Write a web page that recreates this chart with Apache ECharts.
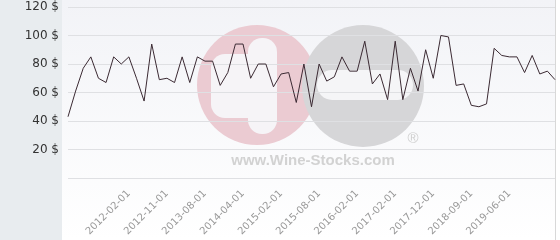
<!DOCTYPE html>
<html><head><meta charset="utf-8">
<script src="https://cdn.jsdelivr.net/npm/echarts@6/dist/echarts.min.js"></script>
<style>html,body{margin:0;padding:0;background:#fff}#c{width:560px;height:240px}</style>
</head><body><div id="c"></div>
<script>
var categories = [
'2010-10-01','2010-12-01','2011-02-01','2011-04-01','2011-06-01','2011-08-01','2011-10-01','2011-12-01',
'2012-02-01','2012-04-01','2012-05-01','2012-07-01','2012-09-01','2012-11-01','2013-01-01','2013-03-01',
'2013-04-01','2013-06-01','2013-08-01','2013-10-01','2013-11-01','2014-01-01','2014-02-01','2014-04-01',
'2014-06-01','2014-08-01','2014-10-01','2014-12-01','2015-02-01','2015-03-01','2015-04-01','2015-06-01',
'2015-07-01','2015-08-01','2015-09-01','2015-10-01','2015-11-01','2016-01-01','2016-02-01','2016-04-01',
'2016-07-01','2016-09-01','2016-11-01','2017-02-01','2017-04-01','2017-06-01','2017-08-01','2017-10-01',
'2017-12-01','2018-02-01','2018-04-01','2018-05-01','2018-07-01','2018-09-01','2018-11-01','2019-01-01',
'2019-02-01','2019-04-01','2019-06-01','2019-08-01','2019-10-01','2019-12-01','2020-02-01','2020-04-01',
'2020-06-01'];
var prices = [
43,61,77,85,70,67,85,80,85,70,54,94,69,70,67,85,
67,85,82,82,65,74,94,94,70,80,80,64,73,74,53,80,
50,80,68,71,85,75,75,96,66,73,55,96,55,77,61,90,
70,100,99,65,66,51,50,52,91,86,85,85,74,86,73,75,
69];
var tickLabels = ['2012-02-01','2012-11-01','2013-08-01','2014-04-01','2015-02-01','2015-08-01',
'2016-02-01','2017-02-01','2017-12-01','2018-09-01','2019-06-01'];
var yTicks = [0,20,40,60,80,100,120];

var chart = echarts.init(document.getElementById('c'), null, {renderer:'canvas'});
chart.setOption({
  animation:false,
  graphic:[
    {type:'rect', z:-10, silent:true, shape:{x:0,y:0,width:62,height:240}, style:{fill:'#e8ecef'}},
    {type:'rect', z:-10, silent:true, shape:{x:62,y:0,width:493,height:240},
      style:{fill:new echarts.graphic.LinearGradient(0,0,0,1,[{offset:0,color:'#f2f3f7'},{offset:1,color:'#ffffff'}])}},
    {type:'line', z:-9, silent:true, shape:{x1:555.5,y1:0,x2:555.5,y2:240}, style:{stroke:'#d8d8d8',lineWidth:1}},
    {type:'circle', z:-8, silent:true, shape:{cx:257,cy:85,r:60}, style:{fill:'#ebcbd2'}},
    {type:'rect', z:-7, silent:true, shape:{x:211,y:54,width:66,height:64,r:[14,0,0,14]}, style:{fill:'#f6f4f7'}},
    {type:'rect', z:-7, silent:true, shape:{x:248,y:38,width:29,height:96,r:14}, style:{fill:'#f6f4f7'}},
    {type:'circle', z:-8, silent:true, shape:{cx:363,cy:86,r:61}, style:{fill:'#d6d6d8'}},
    {type:'rect', z:-7, silent:true, shape:{x:317,y:70,width:96,height:30,r:15}, style:{fill:'#f5f5f7'}},
    {type:'text', z:-7, silent:true, x:313, y:161, style:{text:'www.Wine-Stocks.com', font:'bold 15px "Liberation Sans", Arial', fill:'#d2d2d2', align:'center', verticalAlign:'middle'}},
    {type:'text', z:-7, silent:true, x:413, y:139, style:{text:'®', font:'15px "Liberation Sans", Arial', fill:'#cfcfcf', align:'center', verticalAlign:'middle'}}
  ],
  grid:{left:68, right:5, top:7, bottom:62, containLabel:false},
  xAxis:{
    type:'category', data:categories, boundaryGap:false,
    axisLine:{show:false}, axisTick:{show:false}, splitLine:{show:false},
    axisLabel:{rotate:45, margin:14, fontSize:10, color:'#999', fontFamily:'DejaVu Sans',
      interval:function(i,v){return tickLabels.indexOf(v)>=0;}}
  },
  yAxis:{
    type:'value', min:yTicks[0], max:yTicks[yTicks.length-1], interval:20,
    axisLine:{show:false}, axisTick:{show:false},
    splitLine:{lineStyle:{color:'#dfe0e3',width:1}},
    axisLabel:{margin:9, fontSize:12, color:'#333', fontFamily:'DejaVu Sans',
      formatter:function(v){return v===0?'':v+' $';}}
  },
  series:[{type:'line', data:prices, symbol:'none', lineStyle:{color:'#3b2a33',width:1}}]
});
</script></body></html>
